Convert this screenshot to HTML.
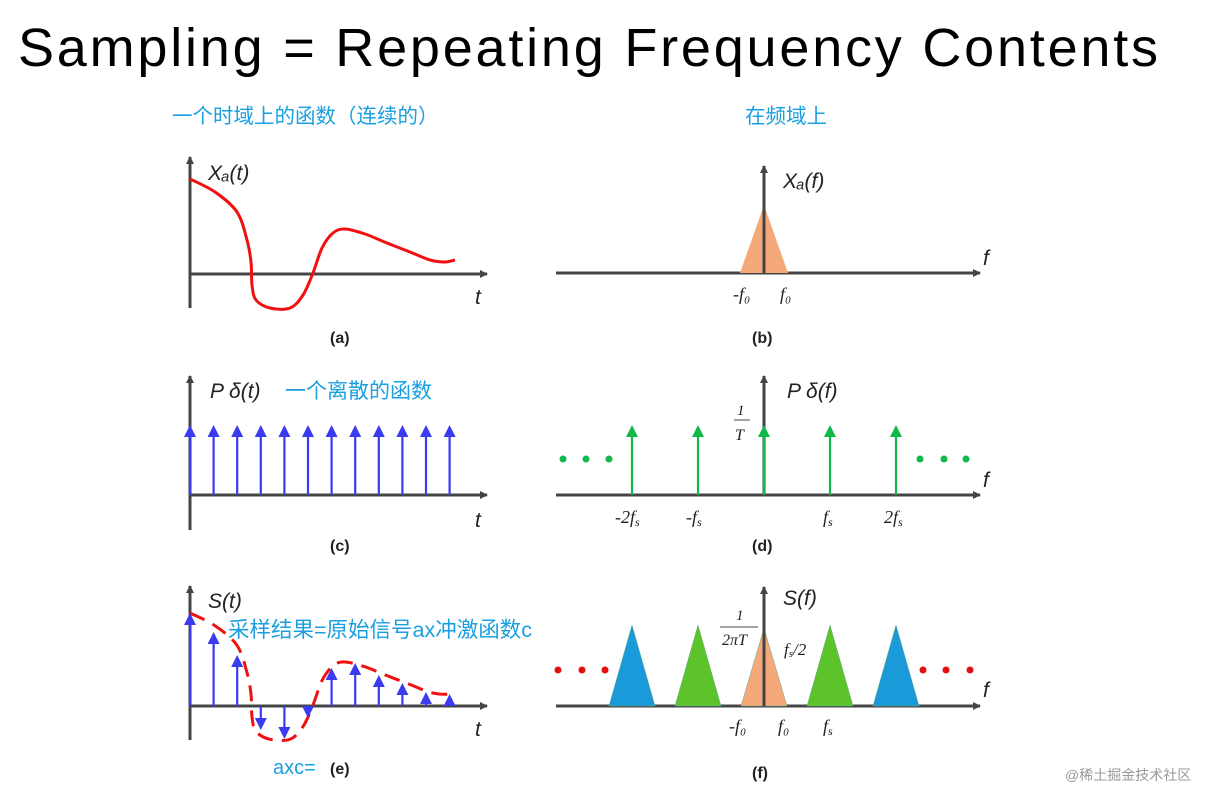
<!DOCTYPE html>
<html><head><meta charset="utf-8"><style>
html,body{margin:0;padding:0;background:#fff;width:1229px;height:792px;overflow:hidden}
svg{display:block}
.cn{font-family:"Liberation Sans","Noto Sans CJK SC",sans-serif;fill:#1a9fe0}
.it{font-family:"Liberation Sans",sans-serif;font-style:italic;fill:#222}
.ser{font-family:"Liberation Serif",serif;font-style:italic;fill:#222}
.bold{font-family:"Liberation Sans",sans-serif;font-weight:bold;fill:#222;font-size:16px}
</style></head><body>
<svg id="s" width="1229" height="792" viewBox="0 0 1229 792">
<defs>
<marker id="ak" markerWidth="8" markerHeight="8" refX="7" refY="4" orient="auto" markerUnits="userSpaceOnUse"><path d="M0,0 L8,4 L0,8 Z" fill="#444"/></marker>
</defs>
<text x="18" y="66" font-family="Liberation Sans,sans-serif" font-size="54" textLength="1140" fill="#000">Sampling = Repeating Frequency Contents</text>
<text x="172" y="123" class="cn" font-size="20.5">一个时域上的函数（连续的）</text>
<text x="745" y="123" class="cn" font-size="20.5">在频域上</text>
<g id="g"></g>
<text x="1065" y="780" font-family="Liberation Sans,'Noto Sans CJK SC',sans-serif" font-size="14" fill="#999">@稀土掘金技术社区</text>
</svg>
<script>
// (a) continuous signal points (t offset, value above axis)
const curveT=[0,25,47,57,61,62,66,80,100,113,123,132,143,155,175,197,220,240,255,265];
const curveV=[95,82,62,34,12,-11,-26,-34,-34,-21,1,26,41,45,40,31,22,14,12,14];
// (c)/(e) sample values
const sampleV=[93,74,51,-24,-33,-12,38,43,31,23,14,12];
const combH=70;
// (d) impulse labels
const combLabels=["-2fs","-fs","","fs","2fs"];
const combK=[-2,-1,0,1,2];
// (f) spectrum copies
const specK=[-2,-1,0,1,2];
const specColor=["#1a9ad8","#5cc42a","#f5a97a","#5cc42a","#1a9ad8"];
const specH=[81,81,78,81,81];

const NS="http://www.w3.org/2000/svg";
const G=document.getElementById('g');
function el(t,a,p){const e=document.createElementNS(NS,t);for(const k in a)e.setAttribute(k,a[k]);(p||G).appendChild(e);return e;}
function txt(x,y,s,cls,fs,name){const e=el('text',{x:x,y:y,class:cls,'font-size':fs});e.textContent=s;

return e;}
function axis(x1,y1,x2,y2,name){const e=el('line',{x1:x1,y1:y1,x2:x2,y2:y2,stroke:'#444','stroke-width':3,'marker-end':'url(#ak)'});

}
function arrow(x,y0,y1,col,name){const dir=y1<y0?1:-1;
const l=el('line',{x1:x,y1:y0,x2:x,y2:y1+dir*9,stroke:col,'stroke-width':2.2});


const h=el('path',{d:`M${x-6},${y1+dir*12} L${x},${y1} L${x+6},${y1+dir*12} Z`,fill:col});

}
function smooth(pts){let d=`M${pts[0][0]},${pts[0][1]}`;for(let i=0;i<pts.length-1;i++){const p0=pts[i-1]||pts[i],p1=pts[i],p2=pts[i+1],p3=pts[i+2]||p2;
d+=` C${p1[0]+(p2[0]-p0[0])/6},${p1[1]+(p2[1]-p0[1])/6} ${p2[0]-(p3[0]-p1[0])/6},${p2[1]-(p3[1]-p1[1])/6} ${p2[0]},${p2[1]}`;}return d;}

const TX=190,DT=23.6;
// (a)
const aY=274;
axis(TX,308,TX,157,'a-y-axis');axis(TX,aY,487,aY,'a-x-axis');
const ca=el('path',{d:smooth(curveT.map((t,i)=>[TX+t,aY-curveV[i]])),fill:'none',stroke:'#f01010','stroke-width':3});


txt(208,180,'Xₐ(t)','it',21,'a-y-label');txt(475,304,'t','it',21,'a-x-label');txt(330,343,'(a)','bold',16,'a-caption');
// (c)
const cY=495;
axis(TX,530,TX,376,'c-y-axis');axis(TX,cY,487,cY,'c-x-axis');
sampleV.forEach((v,i)=>arrow(TX+i*DT,cY,cY-combH,'#3a3af0','c-impulse'));
txt(210,398,'P δ(t)','it',21,'c-y-label');txt(285,398,'一个离散的函数','cn',21,'c-note');
txt(475,527,'t','it',21,'c-x-label');txt(330,551,'(c)','bold',16,'c-caption');
// (e)
const eY=706;
axis(TX,740,TX,586,'e-y-axis');axis(TX,eY,487,eY,'e-x-axis');
const ce=el('path',{d:smooth(curveT.map((t,i)=>[TX+t,eY-curveV[i]*(93/95)])),fill:'none',stroke:'#f01010','stroke-width':3,'stroke-dasharray':'16 9'});


sampleV.forEach((v,i)=>arrow(TX+i*DT,eY,eY-v,'#3a3af0','e-sample'));
txt(208,608,'S(t)','it',21,'e-y-label');txt(228,637,'采样结果=原始信号ax冲激函数c','cn',21.5,'e-note');
txt(475,736,'t','it',21,'e-x-label');txt(273,774,'axc=','cn',20,'e-note2');txt(330,774,'(e)','bold',16,'e-caption');

const FX=764,DF=66;
// (b)
axis(556,273,980,273,'b-x-axis');
const tb=el('path',{d:`M${FX-24},273 L${FX},${273-68} L${FX+24},273 Z`,fill:'#f5a97a'});


axis(FX,273,FX,166,'b-y-axis');
txt(783,188,'Xₐ(f)','it',21,'b-y-label');txt(983,265,'f','it',21,'b-x-label');
txt(733,300,'-f₀','ser',18,'b-neg-f0');txt(780,300,'f₀','ser',18,'b-f0');txt(752,343,'(b)','bold',16,'b-caption');
// (d)
axis(556,495,980,495,'d-x-axis');axis(FX,495,FX,376,'d-y-axis');
combK.forEach((k,i)=>{arrow(FX+k*DF,495,495-combH,'#11b84a','d-impulse');
if(combLabels[i]){const s=combLabels[i].replace('fs','f');const t=txt(FX+k*DF-(s.length*5)-2,523,s,'ser',18,'d-label');const sub=el('tspan',{'font-size':12,dy:3});sub.textContent='s';t.appendChild(sub);}});
[563,586,609,920,944,966].forEach(x=>{const c=el('circle',{cx:x,cy:459,r:3.5,fill:'#11b84a'});

});
txt(737,415,'1','ser',15,'d-one');el('line',{x1:734,y1:420,x2:750,y2:420,stroke:'#444','stroke-width':1});txt(735,440,'T','ser',16,'d-T');
txt(787,398,'P δ(f)','it',21,'d-y-label');txt(983,487,'f','it',21,'d-x-label');txt(752,551,'(d)','bold',16,'d-caption');
// (f)
axis(556,706,980,706,'f-x-axis');
specK.forEach((k,i)=>{const cx=FX+k*DF;const p=el('path',{d:`M${cx-23},706 L${cx},${706-specH[i]} L${cx+23},706 Z`,fill:specColor[i],stroke:'#6a8',"stroke-width":0.5});

});
axis(FX,706,FX,587,'f-y-axis');
[558,582,605,923,946,970].forEach(x=>{const c=el('circle',{cx:x,cy:670,r:3.5,fill:'#e01010'});

});
txt(736,620,'1','ser',15,'f-one');el('line',{x1:720,y1:627,x2:758,y2:627,stroke:'#444','stroke-width':1});txt(722,645,'2πT','ser',16,'f-2piT');
txt(783,605,'S(f)','it',21,'f-y-label');txt(983,697,'f','it',21,'f-x-label');
const fs2=txt(784,655,'f','ser',17,'f-half-fs');const s2=el('tspan',{'font-size':11,dy:2},fs2);s2.textContent='s';const s3=el('tspan',{dy:-2},fs2);s3.textContent='/2';
txt(729,732,'-f₀','ser',18,'f-neg-f0');txt(778,732,'f₀','ser',18,'f-f0');
const fl=txt(823,732,'f','ser',18,'f-fs');const fsub=el('tspan',{'font-size':12,dy:3},fl);fsub.textContent='s';
txt(752,778,'(f)','bold',16,'f-caption');
</script>
</body></html>
